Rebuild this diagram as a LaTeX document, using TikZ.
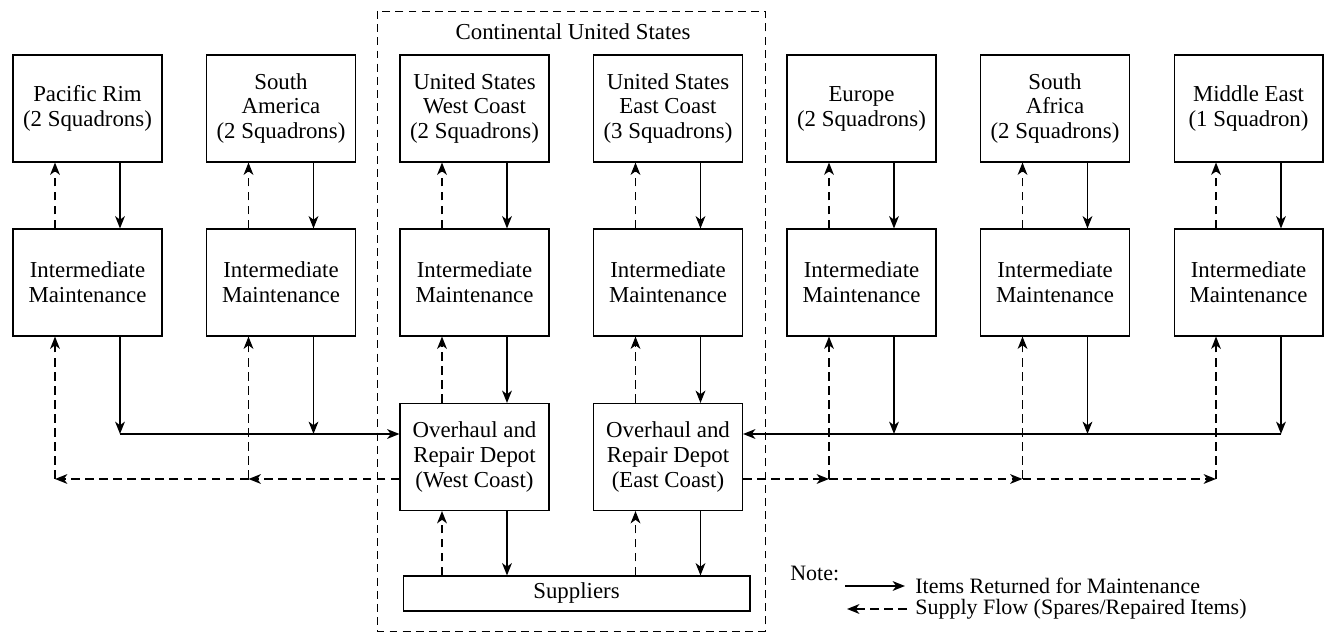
\documentclass[tikz,border=0pt]{standalone}
\usepackage{fontspec}
\setmainfont{Liberation Serif}
\usetikzlibrary{arrows.meta}
\begin{document}
\begin{tikzpicture}[x=0.02cm,y=-0.02cm,
  font=\fontsize{13}{14.2}\selectfont,
  box/.style={draw,line width=0.6pt,minimum width=2.98cm,minimum height=2.14cm,align=center,inner sep=1pt},
  ret/.style={line width=1.1pt,-{Stealth[length=7pt,width=5.5pt,inset=2pt]}},
  sup/.style={ret,dash pattern=on 5pt off 3pt},
  frame/.style={line width=0.5pt,dash pattern=on 4.5pt off 3pt},
  legtext/.style={anchor=west,inner sep=0pt,font=\fontsize{12.5}{13}\selectfont}]
\useasboundingbox (0,0) rectangle (1328,641);
\draw[frame] (377,11) rectangle (765,631);
\node (conus) at (573,32) {Continental United States};
  \foreach \nm/\txt/\pos in {pac/{Pacific Rim\\(2 Squadrons)}/87.5,
    sam/{South\\America\\(2 Squadrons)}/281,
    usw/{United States\\West Coast\\(2 Squadrons)}/474.5,
    use/{United States\\East Coast\\(3 Squadrons)}/668,
    eur/{Europe\\(2 Squadrons)}/861.5,
    saf/{South\\Africa\\(2 Squadrons)}/1055,
    mde/{Middle East\\(1 Squadron)}/1248.5}
  {  \node [box] (\nm) at (\pos,108.5) {\txt};
     \node [box] (\nm-im) at (\pos,282.5) {Intermediate\\Maintenance};
     \draw [sup] ([xshift=-0.65cm]\nm-im.north) -- ([xshift=-0.65cm]\nm.south);
     \draw [ret] ([xshift=0.65cm]\nm.south) -- ([xshift=0.65cm]\nm-im.north);}
\node [box] (depw) at (474.5,457) {Overhaul and\\Repair Depot\\(West Coast)};
\node [box] (depe) at (668,457) {Overhaul and\\Repair Depot\\(East Coast)};
\node [draw,line width=0.6pt,minimum width=6.94cm,minimum height=0.7cm] (supp) at (576.5,593.5) {Suppliers};
  \foreach \nm/\dp in {usw/depw,use/depe}
  {  \draw [sup] ([xshift=-0.65cm]\dp.north) -- ([xshift=-0.65cm]\nm-im.south);
     \draw [ret] ([xshift=0.65cm]\nm-im.south) -- ([xshift=0.65cm]\dp.north);
     \draw [sup] ([xshift=-0.65cm]\dp.south |- supp.north) -- ([xshift=-0.65cm]\dp.south);
     \draw [ret] ([xshift=0.65cm]\dp.south) -- ([xshift=0.65cm]\dp.south |- supp.north);}
\coordinate (wIn) at ([yshift=0.46cm]depw.west);
\coordinate (wOut) at ([yshift=-0.44cm]depw.west);
\coordinate (eIn) at ([yshift=0.46cm]depe.east);
\coordinate (eOut) at ([yshift=-0.44cm]depe.east);
  \foreach \nm in {pac,sam}
  {  \draw [ret] ([xshift=0.65cm]\nm-im.south) -- ([xshift=0.65cm]\nm-im.south |- wIn);
     \draw [sup] ([xshift=-0.65cm]\nm-im.south |- wOut) -- ([xshift=-0.65cm]\nm-im.south);}
\draw [ret] ([xshift=0.65cm]pac-im.south |- wIn) -- (wIn);
\draw [sup] (wOut) -- ([xshift=-0.65cm]sam-im.south |- wOut);
\draw [sup] ([xshift=-0.65cm]sam-im.south |- wOut) -- ([xshift=-0.65cm]pac-im.south |- wOut);
  \foreach \nm in {eur,saf,mde}
  {  \draw [ret] ([xshift=0.65cm]\nm-im.south) -- ([xshift=0.65cm]\nm-im.south |- eIn);
     \draw [sup] ([xshift=-0.65cm]\nm-im.south |- eOut) -- ([xshift=-0.65cm]\nm-im.south);}
\draw [ret] ([xshift=0.65cm]mde-im.south |- eIn) -- (eIn);
\draw [sup] (eOut) -- ([xshift=-0.65cm]eur-im.south |- eOut);
\draw [sup] ([xshift=-0.65cm]eur-im.south |- eOut) -- ([xshift=-0.65cm]saf-im.south |- eOut);
\draw [sup] ([xshift=-0.65cm]saf-im.south |- eOut) -- ([xshift=-0.65cm]mde-im.south |- eOut);
\node [legtext] (note) at (790,573) {Note:};
\node [legtext] (lgret) at (915,586) {Items Returned for Maintenance};
\node [legtext] (lgsup) at (915,609) {Supply Flow (Spares/Repaired Items)};
\draw [ret] ([xshift=-1.4cm]lgret.west) -- ([xshift=-0.2cm]lgret.west);
\draw [sup] ([xshift=-0.16cm]lgsup.west) -- ([xshift=-1.36cm]lgsup.west);
\end{tikzpicture}
\end{document}
